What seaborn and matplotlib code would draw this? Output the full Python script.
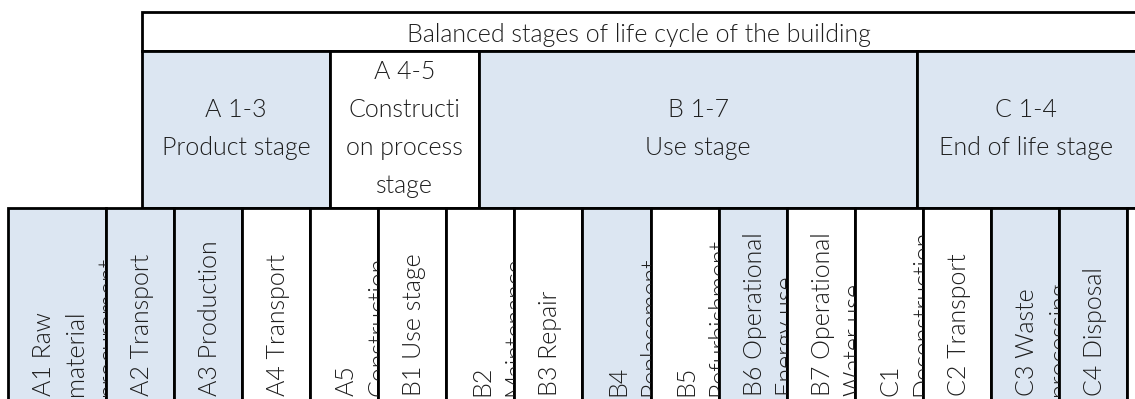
import numpy as np
import seaborn as sns
import matplotlib.pyplot as plt

# table content
title = "Balanced stages of life cycle of the building"
stage_labels = ["A 1-3\nProduct stage",
                "A 4-5\nConstructi\non process\nstage",
                "B 1-7\nUse stage",
                "C 1-4\nEnd of life stage"]
stage_shaded = [True, False, True, True]
module_labels = ["A1 Raw\nmaterial\nprocurement", "A2 Transport", "A3 Production",
                 "A4 Transport", "A5\nConstruction", "B1 Use stage",
                 "B2\nMaintenance", "B3 Repair", "B4\nReplacement",
                 "B5\nRefurbishment", "B6 Operational\nEnergy use",
                 "B7 Operational\nWater use", "C1\nDeconstruction",
                 "C2 Transport", "C3 Waste\nprocessing", "C4 Disposal", ""]
module_shaded = [True, True, True, False, False, False, False, False, True,
                 False, True, False, False, False, True, True, False]

# layout (pixels)
W, H = 1135, 399
blue = "#dce6f2"
ink = "#1e1e1e"
lw = 2.0
row_top, row_mid, row_bot = 12, 51, 208
mod_x0, first_w, mod_w = 8, 98, 68.07
stage_edges = [142, 330, 479, 917, W + 50]

sns.set_theme(style="white")
plt.rcParams['font.family'] = ['Lato', 'DejaVu Sans']
fs = 18
fw = 300  # Lato Light

fig = plt.figure(figsize=(W / 100, H / 100), dpi=100)
ax = fig.add_axes([0, 0, 1, 1])
ax.set_xlim(0, W)
ax.set_ylim(H, 0)
ax.axis("off")

# module columns
mod_widths = np.array([first_w] + [mod_w] * (len(module_labels) - 1))
mod_lefts = mod_x0 + np.concatenate([[0], np.cumsum(mod_widths)[:-1]])
mod_widths[-1] = 200
stage_lefts = np.array(stage_edges[:-1], dtype=float)
stage_widths = np.diff(stage_edges)

# header
ax.bar(stage_edges[0], row_mid - row_top, width=stage_edges[-1] - stage_edges[0],
       bottom=row_top, align="edge", color="white", edgecolor="black",
       linewidth=lw)
ax.text((stage_edges[0] + W) / 2, 42, title, ha="center", va="baseline",
        fontsize=fs, weight=fw, color=ink)

# stage row
ax.bar(stage_lefts, row_bot - row_mid, width=stage_widths, bottom=row_mid,
       align="edge", color=[blue if s else "white" for s in stage_shaded],
       edgecolor="black", linewidth=lw)
pitch = 38
for left, width, lab in zip(stage_lefts, stage_widths, stage_labels):
    lines = lab.split("\n")
    cx = (left + min(left + width, W)) / 2
    y0 = 136 - pitch * (len(lines) - 1) / 2
    for i, line in enumerate(lines):
        ax.text(cx, y0 + i * pitch, line, ha="center", va="baseline",
                fontsize=fs, weight=fw, color=ink)

# module row, vertical text clipped to its cell
bars = ax.bar(mod_lefts, 250, width=mod_widths, bottom=row_bot, align="edge",
              color=[blue if s else "white" for s in module_shaded],
              edgecolor="black", linewidth=lw)
vpitch = 32
for left, lab, patch in zip(mod_lefts, module_labels, bars.patches):
    for i, line in enumerate(lab.split("\n")):
        t = ax.text(left + 43 + i * vpitch, 396, line, rotation=90,
                    rotation_mode="anchor", ha="left", va="baseline",
                    fontsize=fs, weight=fw, color=ink, clip_on=True)
        t.set_clip_path(patch)

sns.despine(left=True, bottom=True)
fig.savefig("out.png", dpi=100)
